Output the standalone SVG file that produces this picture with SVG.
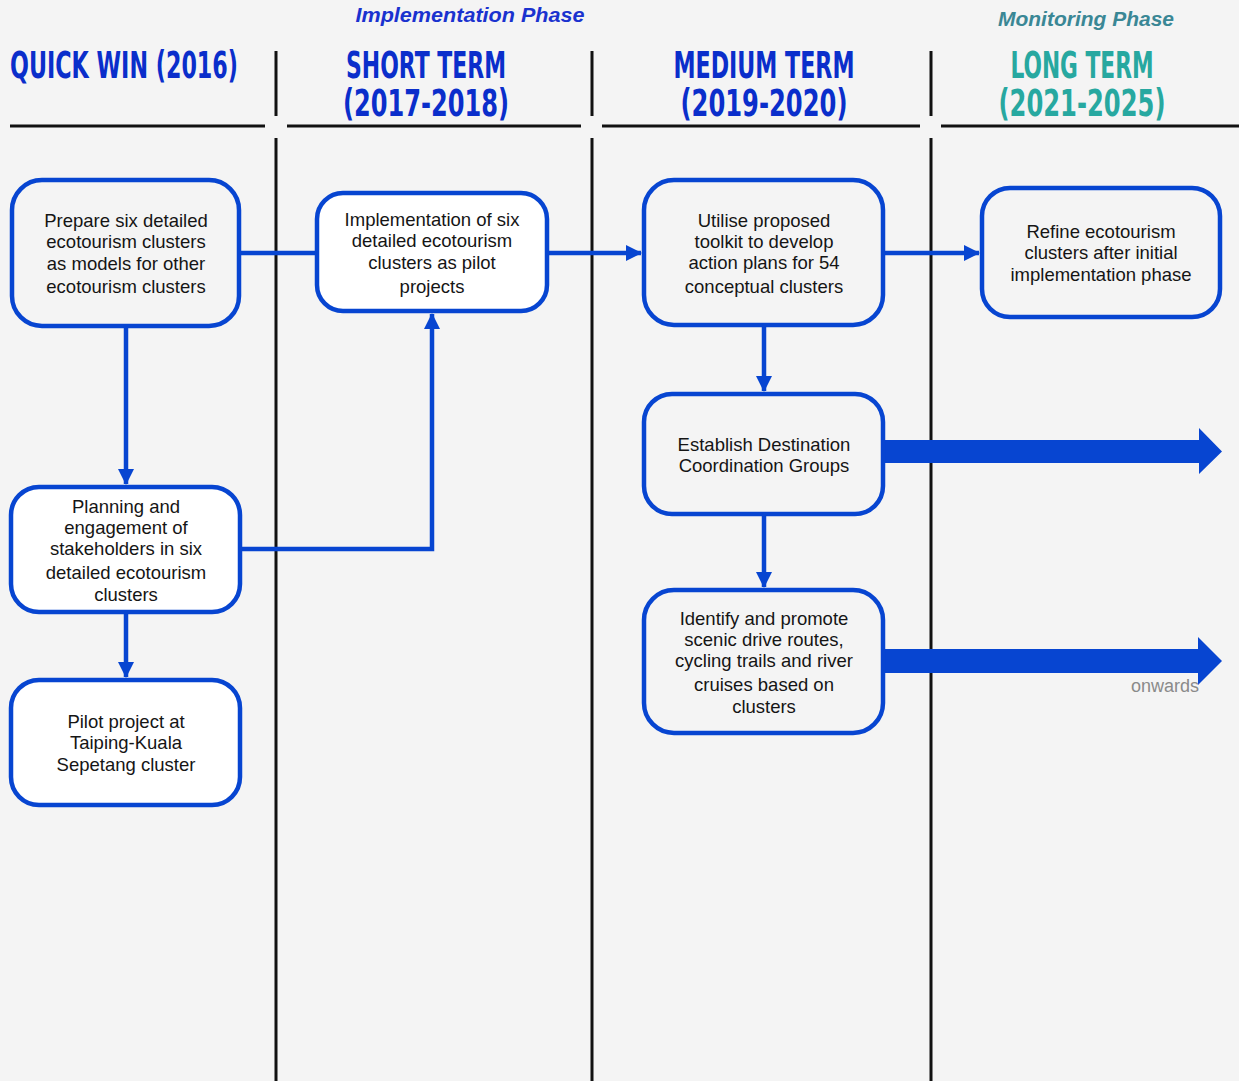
<svg xmlns="http://www.w3.org/2000/svg" width="1239" height="1081" viewBox="0 0 1239 1081">
  <defs>
    <marker id="head" viewBox="0 0 16 16" refX="15" refY="8" markerWidth="16" markerHeight="16" markerUnits="userSpaceOnUse" orient="auto">
      <path d="M0,0 L16,8 L0,16 Z" fill="#0745d1"/>
    </marker>
    <style>
      .bg { fill: #f4f4f4; }
      .rule { stroke: #111; stroke-width: 3; fill: none; }
      .hdr { font-family: "Liberation Sans Narrow", "DejaVu Sans Condensed", "Liberation Sans", sans-serif; font-weight: bold; font-stretch: condensed; font-size: 37px; text-anchor: middle; }
      .blue { fill: #0a2ecb; }
      .teal { fill: #27a8a0; }
      .phase { font-family: "Liberation Sans", Arial, sans-serif; font-style: italic; font-weight: bold; font-size: 20px; text-anchor: middle; }
      .box { stroke: #0745d1; stroke-width: 4.5; }
      .grey { fill: #f4f4f4; }
      .white { fill: #ffffff; }
      .lbl { font-family: "Liberation Sans", Arial, sans-serif; font-size: 18.5px; fill: #151515; text-anchor: middle; }
      .conn { stroke: #0745d1; stroke-width: 4.5; fill: none; }
      .big { fill: #0745d1; }
      .note { font-family: "Liberation Sans", Arial, sans-serif; font-size: 18px; fill: #8a8a8a; }
    </style>
  </defs>

  <rect class="bg" x="0" y="0" width="1239" height="1081"/>

  <!-- phase captions -->
  <text class="phase" x="470" y="22" fill="#1a32cf" textLength="229" lengthAdjust="spacingAndGlyphs">Implementation Phase</text>
  <text class="phase" x="1086" y="26" fill="#3a8795" textLength="176" lengthAdjust="spacingAndGlyphs">Monitoring Phase</text>

  <!-- column headings -->
  <g id="headings">
    <text class="hdr blue" x="124" y="78" textLength="228" lengthAdjust="spacingAndGlyphs">QUICK WIN (2016)</text>
    <text class="hdr blue"><tspan x="426" y="78" textLength="160" lengthAdjust="spacingAndGlyphs">SHORT TERM</tspan><tspan x="426" y="116" textLength="166" lengthAdjust="spacingAndGlyphs">(2017-2018)</tspan></text>
    <text class="hdr blue"><tspan x="764" y="78" textLength="181" lengthAdjust="spacingAndGlyphs">MEDIUM TERM</tspan><tspan x="764" y="116" textLength="167" lengthAdjust="spacingAndGlyphs">(2019-2020)</tspan></text>
    <text class="hdr teal"><tspan x="1082" y="78" textLength="143" lengthAdjust="spacingAndGlyphs">LONG TERM</tspan><tspan x="1082" y="116" textLength="167" lengthAdjust="spacingAndGlyphs">(2021-2025)</tspan></text>
  </g>

  <!-- column rules -->
  <g id="grid">
    <line class="rule" x1="10" y1="126" x2="265" y2="126"/>
    <line class="rule" x1="287" y1="126" x2="581" y2="126"/>
    <line class="rule" x1="602" y1="126" x2="920" y2="126"/>
    <line class="rule" x1="941" y1="126" x2="1239" y2="126"/>
    <line class="rule" x1="276" y1="51" x2="276" y2="116"/>
    <line class="rule" x1="276" y1="138" x2="276" y2="1081"/>
    <line class="rule" x1="592" y1="51" x2="592" y2="116"/>
    <line class="rule" x1="592" y1="138" x2="592" y2="1081"/>
    <line class="rule" x1="931" y1="51" x2="931" y2="116"/>
    <line class="rule" x1="931" y1="138" x2="931" y2="1081"/>
  </g>

  <!-- connectors -->
  <g id="connectors">
    <line class="conn" x1="240" y1="253" x2="316" y2="253"/>
    <line class="conn" x1="548" y1="253" x2="641" y2="253" marker-end="url(#head)"/>
    <line class="conn" x1="884" y1="253" x2="979" y2="253" marker-end="url(#head)"/>
    <line class="conn" x1="126" y1="327" x2="126" y2="484" marker-end="url(#head)"/>
    <polyline class="conn" points="241,549 432,549 432,314" marker-end="url(#head)"/>
    <line class="conn" x1="126" y1="613" x2="126" y2="677" marker-end="url(#head)"/>
    <line class="conn" x1="764" y1="326" x2="764" y2="391" marker-end="url(#head)"/>
    <line class="conn" x1="764" y1="515" x2="764" y2="587" marker-end="url(#head)"/>
    <path class="big" d="M884,440 L1199,440 L1199,428 L1222,451.5 L1199,474 L1199,463 L884,463 Z"/>
    <path class="big" d="M884,649 L1198,649 L1198,637 L1222,661 L1198,685 L1198,673 L884,673 Z"/>
    <text class="note" x="1131" y="692">onwards</text>
  </g>

  <!-- nodes -->
  <g id="prepare">
    <rect class="box grey" x="12" y="180" width="227" height="146" rx="30"/>
    <text class="lbl" x="126" y="227">Prepare six detailed</text>
    <text class="lbl" x="126" y="248">ecotourism clusters</text>
    <text class="lbl" x="126" y="270">as models for other</text>
    <text class="lbl" x="126" y="293">ecotourism clusters</text>
  </g>

  <g id="implementation">
    <rect class="box white" x="317" y="193" width="230" height="118" rx="26"/>
    <text class="lbl" x="432" y="226">Implementation of six</text>
    <text class="lbl" x="432" y="247">detailed ecotourism</text>
    <text class="lbl" x="432" y="269">clusters as pilot</text>
    <text class="lbl" x="432" y="293">projects</text>
  </g>

  <g id="utilise">
    <rect class="box grey" x="644" y="180" width="239" height="145" rx="30"/>
    <text class="lbl" x="764" y="227">Utilise proposed</text>
    <text class="lbl" x="764" y="248">toolkit to develop</text>
    <text class="lbl" x="764" y="269">action plans for 54</text>
    <text class="lbl" x="764" y="293">conceptual clusters</text>
  </g>

  <g id="refine">
    <rect class="box grey" x="982" y="188" width="238" height="129" rx="28"/>
    <text class="lbl" x="1101" y="238">Refine ecotourism</text>
    <text class="lbl" x="1101" y="259">clusters after initial</text>
    <text class="lbl" x="1101" y="281">implementation phase</text>
  </g>

  <g id="establish">
    <rect class="box grey" x="644" y="394" width="239" height="120" rx="28"/>
    <text class="lbl" x="764" y="451">Establish Destination</text>
    <text class="lbl" x="764" y="472">Coordination Groups</text>
  </g>

  <g id="identify">
    <rect class="box grey" x="644" y="590" width="239" height="143" rx="30"/>
    <text class="lbl" x="764" y="625">Identify and promote</text>
    <text class="lbl" x="764" y="646">scenic drive routes,</text>
    <text class="lbl" x="764" y="667">cycling trails and river</text>
    <text class="lbl" x="764" y="691">cruises based on</text>
    <text class="lbl" x="764" y="713">clusters</text>
  </g>

  <g id="planning">
    <rect class="box white" x="11" y="487" width="229" height="125" rx="28"/>
    <text class="lbl" x="126" y="513">Planning and</text>
    <text class="lbl" x="126" y="534">engagement of</text>
    <text class="lbl" x="126" y="555">stakeholders in six</text>
    <text class="lbl" x="126" y="579">detailed ecotourism</text>
    <text class="lbl" x="126" y="601">clusters</text>
  </g>

  <g id="pilot">
    <rect class="box white" x="11" y="680" width="229" height="125" rx="28"/>
    <text class="lbl" x="126" y="728">Pilot project at</text>
    <text class="lbl" x="126" y="749">Taiping-Kuala</text>
    <text class="lbl" x="126" y="771">Sepetang cluster</text>
  </g>
</svg>
